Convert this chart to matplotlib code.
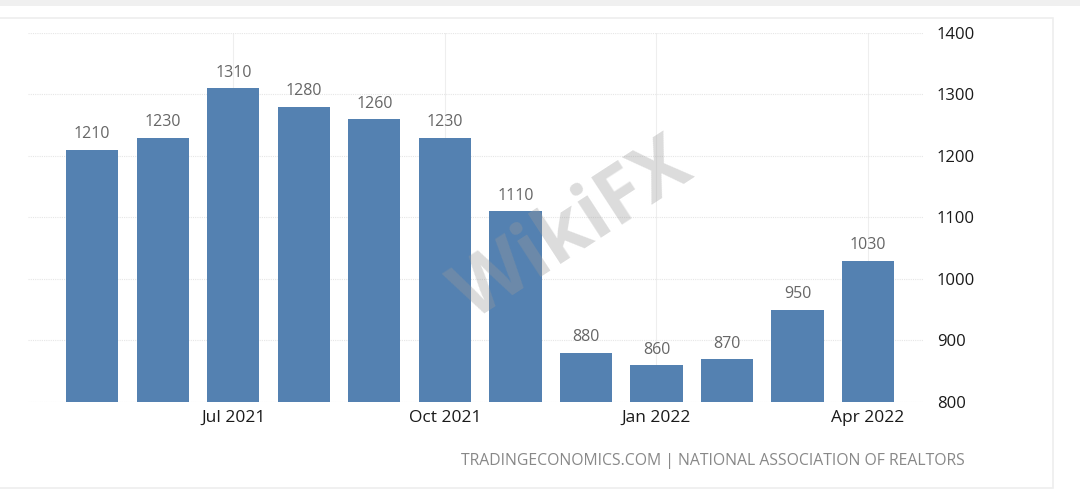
import matplotlib.pyplot as plt
from matplotlib.patches import Rectangle

# --- Data: existing home sales (thousands), May 2021 - Apr 2022 ---
months = ["May 2021", "Jun 2021", "Jul 2021", "Aug 2021", "Sep 2021", "Oct 2021",
          "Nov 2021", "Dec 2021", "Jan 2022", "Feb 2022", "Mar 2022", "Apr 2022"]
sales = [1210, 1230, 1310, 1280, 1260, 1230, 1110, 880, 860, 870, 950, 1030]
tick_months = ["Jul 2021", "Oct 2021", "Jan 2022", "Apr 2022"]
y_ticks = [800, 900, 1000, 1100, 1200, 1300, 1400]

BAR_COLOR = "#5481b1"
plt.rcParams['font.family'] = ['Open Sans', 'DejaVu Sans']

fig = plt.figure(figsize=(10.8, 4.92), dpi=100)
fig.patch.set_facecolor("white")

# light frame around the panel, like the web screenshot
fig.patches.append(Rectangle((0, 0.988), 1, 0.012, transform=fig.transFigure,
                             facecolor="#f0f0f0", edgecolor="none", zorder=0))
fig.patches.append(Rectangle((-0.01, 0.008), 0.985, 0.955, transform=fig.transFigure,
                             facecolor="none", edgecolor="#eeeeee", lw=1.2, zorder=0))

ax = fig.add_axes([0.026, 0.183, 0.83, 0.75])
x = list(range(len(months)))
ax.bar(x, sales, width=0.74, color=BAR_COLOR, zorder=2)

# value labels above each bar
for xi, v in zip(x, sales):
    ax.text(xi, v + 12, str(v), ha="center", va="bottom", fontsize=11.5, color="#666666")

ax.set_ylim(800, 1400)
ax.set_xlim(-0.91, 11.8)
ax.yaxis.tick_right()
ax.set_yticks(y_ticks)
ax.set_xticks([months.index(m) for m in tick_months])
ax.set_xticklabels(tick_months)
ax.tick_params(axis="both", length=0, colors="#1a1a1a")
ax.tick_params(axis="y", pad=9, labelsize=12)
ax.tick_params(axis="x", pad=6, labelsize=12.5)

ax.grid(axis="y", color="#e6e6e6", linestyle=(0, (1, 1)), lw=0.8, zorder=0)
ax.grid(axis="x", color="#eeeeee", linestyle="-", lw=0.8, zorder=0)
for s in ax.spines.values():
    s.set_visible(False)

# watermark
fig.text(0.53, 0.53, "WikiFX", fontsize=56, fontweight="bold", color="#9a9a9a",
         alpha=0.35, rotation=33, ha="center", va="center", zorder=5)

# source line
fig.text(0.893, 0.063, "TRADINGECONOMICS.COM | NATIONAL ASSOCIATION OF REALTORS",
         ha="right", va="center", fontsize=11.3, color="#888888")

fig.savefig("out.png", dpi=100)
